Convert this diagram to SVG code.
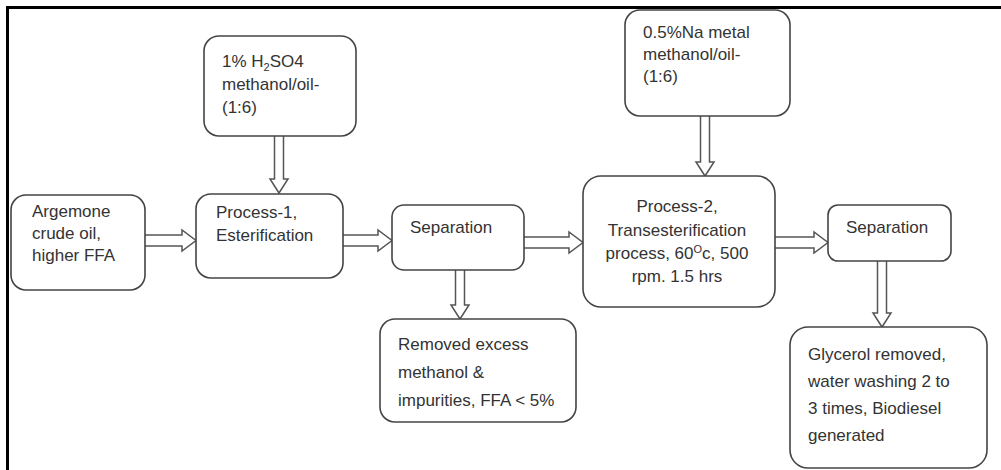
<svg xmlns="http://www.w3.org/2000/svg" width="1001" height="470" viewBox="0 0 1001 470">
<defs>
<style>
.box{fill:#fff;stroke:#444;stroke-width:1.6}
.arr{fill:#fff;stroke:#555;stroke-width:1.5;stroke-linejoin:miter}
.t{font-family:"Liberation Sans",Arial,sans-serif;font-size:17px;fill:#333}
.c{text-anchor:middle}
.frame{stroke:#000;stroke-width:3;fill:none}
</style>
</defs>
<rect x="0" y="0" width="1001" height="470" fill="#fff"/>
<path class="frame" d="M7.5,470 V7.5 H1001"/>

<g id="connectors">
<path class="arr" d="M145,235 H182 V230 L196,240.5 L182,251 V246 H145"/>
<path class="arr" d="M274.5,136 V179 H270 L279,193 L288,179 H283.5 V136"/>
<path class="arr" d="M343,235 H378 V230 L392,240.5 L378,251 V246 H343"/>
<path class="arr" d="M524,237 H569 V232 L583,242.5 L569,253 V248 H524"/>
<path class="arr" d="M700.5,116 V162 H696 L705,176 L714,162 H709.5 V116"/>
<path class="arr" d="M775,237 H814 V232 L828,242.5 L814,253 V248 H775"/>
<path class="arr" d="M877.5,261 V313 H873 L882,327 L891,313 H886.5 V261"/>
<path class="arr" d="M455.5,270 V305 H451 L460,319 L469,305 H464.5 V270"/>
</g>

<g id="h2so4">
<rect class="box" x="204" y="36" width="152" height="100" rx="15"/>
<text class="t" x="222" y="67">1% H<tspan font-size="11" dy="4">2</tspan><tspan dy="-4">SO4</tspan></text>
<text class="t" x="222" y="90">methanol/oil-</text>
<text class="t" x="222" y="113">(1:6)</text>
</g>

<g id="argemone">
<rect class="box" x="11" y="195" width="134" height="95" rx="15"/>
<text class="t" x="32" y="217">Argemone</text>
<text class="t" x="32" y="239">crude oil,</text>
<text class="t" x="32" y="261">higher FFA</text>
</g>

<g id="process1">
<rect class="box" x="196" y="194" width="147" height="84" rx="15"/>
<text class="t" x="216" y="218">Process-1,</text>
<text class="t" x="216" y="241">Esterification</text>
</g>

<g id="separation1">
<rect class="box" x="392" y="205" width="132" height="65" rx="12"/>
<text class="t" x="410" y="233">Separation</text>
</g>

<g id="removed">
<rect class="box" x="380" y="319" width="196" height="103" rx="15"/>
<text class="t" x="398" y="350">Removed excess</text>
<text class="t" x="398" y="378">methanol &amp;</text>
<text class="t" x="398" y="406">impurities, FFA &lt; 5%</text>
</g>

<g id="na">
<rect class="box" x="625" y="10" width="165" height="106" rx="15"/>
<text class="t" x="643" y="38">0.5%Na metal</text>
<text class="t" x="643" y="60">methanol/oil-</text>
<text class="t" x="643" y="82">(1:6)</text>
</g>

<g id="process2">
<rect class="box" x="583" y="176" width="192" height="131" rx="18"/>
<text class="t c" x="677" y="212">Process-2,</text>
<text class="t c" x="677" y="236">Transesterification</text>
<text class="t c" x="677" y="259">process, 60<tspan font-size="11" dy="-6">O</tspan><tspan dy="6">c, 500</tspan></text>
<text class="t c" x="677" y="282">rpm. 1.5 hrs</text>
</g>

<g id="separation2">
<rect class="box" x="828" y="205" width="123" height="56" rx="10"/>
<text class="t" x="846" y="233">Separation</text>
</g>

<g id="glycerol">
<rect class="box" x="790" y="327" width="197" height="141" rx="18"/>
<text class="t" x="808" y="360">Glycerol removed,</text>
<text class="t" x="808" y="387">water washing 2 to</text>
<text class="t" x="808" y="414">3 times, Biodiesel</text>
<text class="t" x="808" y="441">generated</text>
</g>
</svg>
